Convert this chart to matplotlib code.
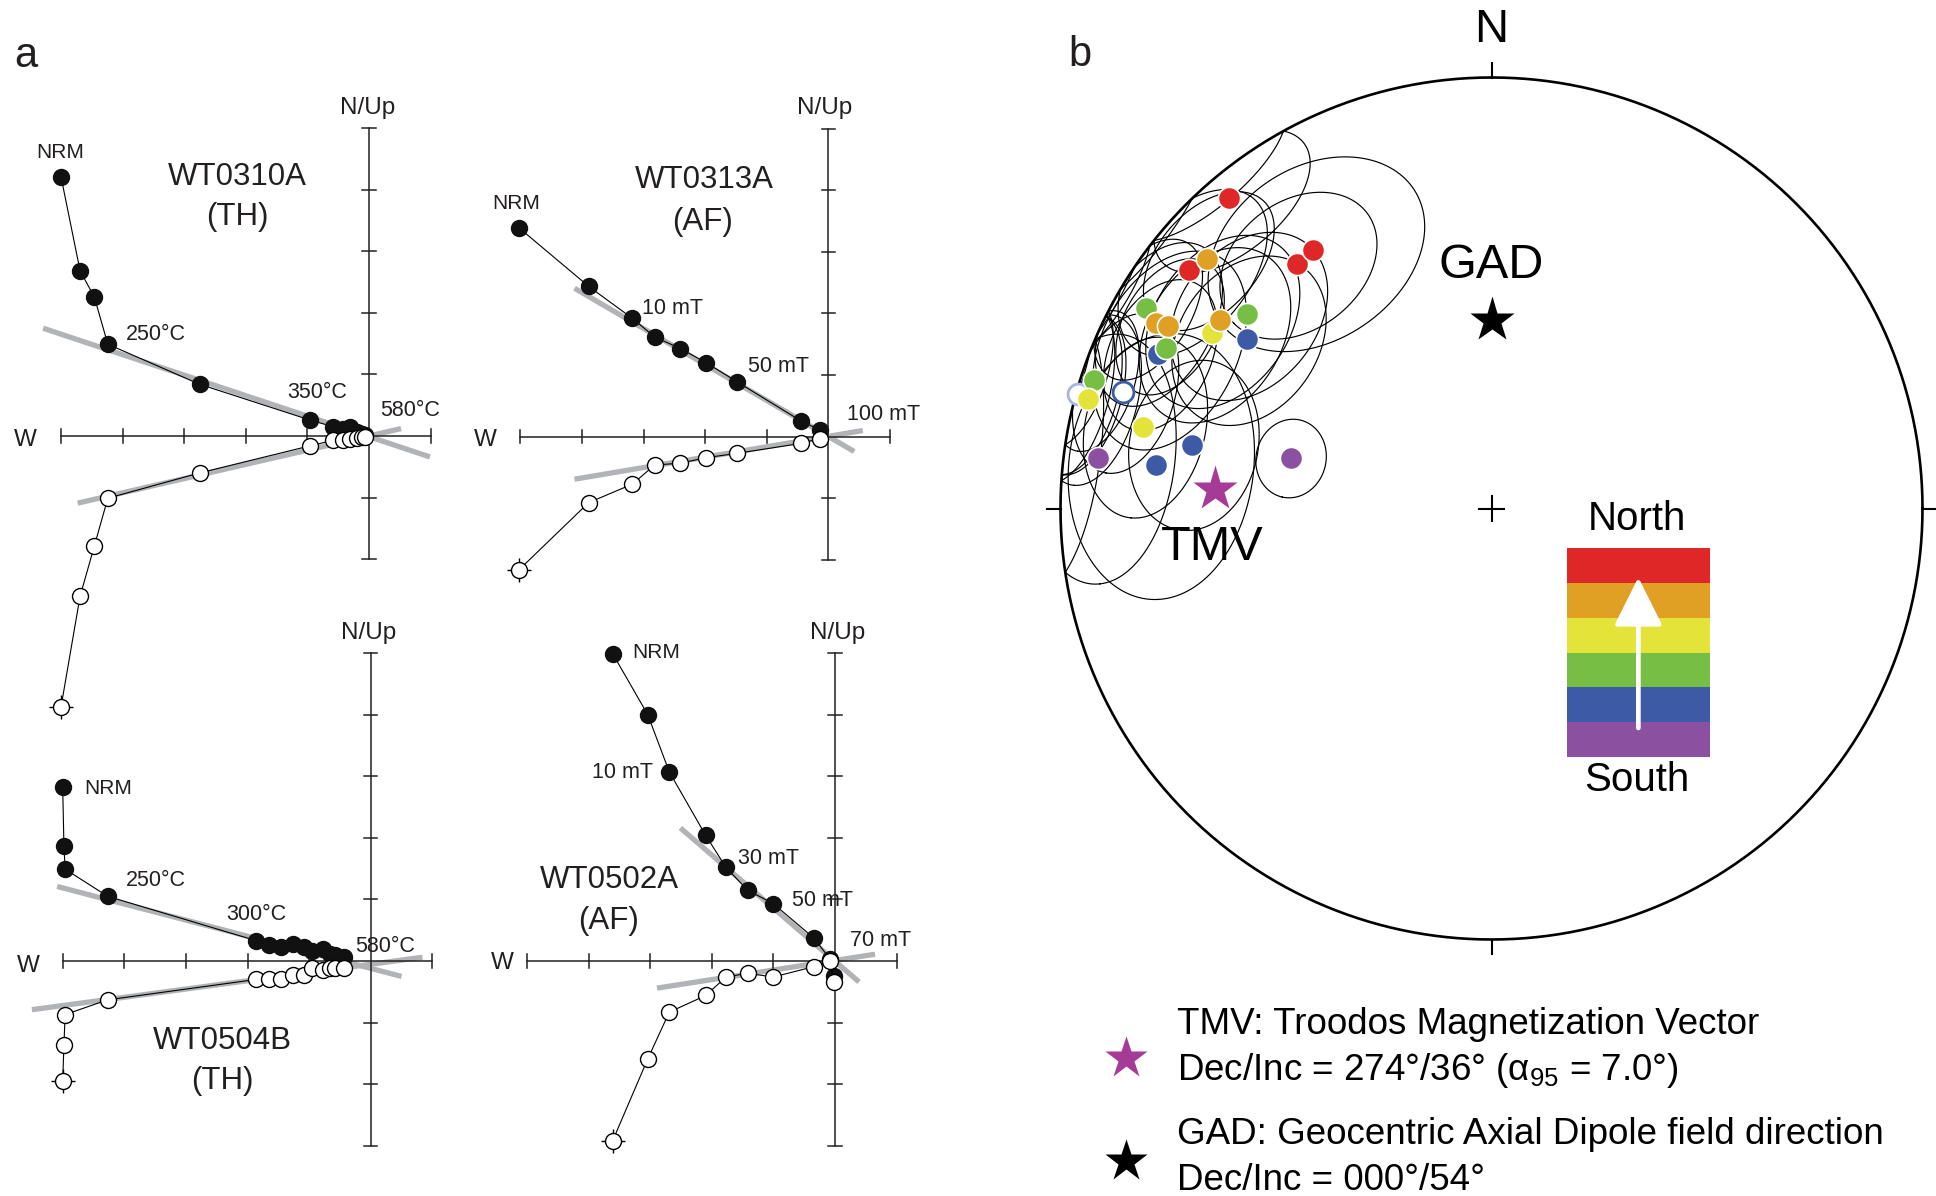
import numpy as np
import matplotlib
matplotlib.use('Agg')
import matplotlib.pyplot as plt

plt.rcParams['font.family'] = ['Liberation Sans', 'DejaVu Sans']
plt.rcParams['mathtext.fontset'] = 'custom'
plt.rcParams['mathtext.rm'] = 'Liberation Sans'
plt.rcParams['mathtext.it'] = 'Liberation Sans:italic'

W, H = 1936, 1196
INK = '#231f20'
GREY = '#b1b3b6'

# ---- panel a: Zijderveld data (tick units, x = E/W, filled = N/Up, open = horizontal) ----
x_0310 = [-5.0, -4.69, -4.46, -4.24, -2.75, -0.96, -0.58, -0.42, -0.31, -0.20, -0.12, -0.06]
f_0310 = [4.21, 2.68, 2.26, 1.49, 0.84, 0.26, 0.15, 0.12, 0.15, 0.07, 0.04, 0.02]
o_0310 = [-4.4, -2.6, -1.79, -1.01, -0.60, -0.16, -0.07, -0.06, -0.05, -0.03, -0.02, -0.01]
fitf_0310 = ([-5.29, 0.99], [1.75, -0.34])
fito_0310 = ([-4.73, 0.52], [-1.09, 0.12])

x_0313 = [-5.02, -3.89, -3.18, -2.82, -2.40, -1.98, -1.48, -0.45, -0.14]
f_0313 = [3.39, 2.44, 1.92, 1.62, 1.43, 1.20, 0.89, 0.26, 0.11]
o_0313 = [-2.16, -1.07, -0.77, -0.46, -0.43, -0.34, -0.27, -0.11, -0.03]
fitf_0313 = ([-4.12, 0.42], [2.41, -0.24])
fito_0313 = ([-4.12, 0.56], [-0.69, 0.10])

x_0504 = [-5.0, -4.98, -4.96, -4.27, -1.86, -1.65, -1.46, -1.26, -1.09, -0.96, -0.78, -0.66, -0.58, -0.44]
f_0504 = [2.82, 1.87, 1.49, 1.05, 0.33, 0.26, 0.22, 0.28, 0.22, 0.17, 0.20, 0.12, 0.09, 0.07]
o_0504 = [-1.95, -1.36, -0.87, -0.63, -0.30, -0.29, -0.30, -0.22, -0.22, -0.11, -0.15, -0.11, -0.11, -0.11]
fitf_0504 = ([-5.09, 0.50], [1.21, -0.25])
fito_0504 = ([-5.5, 0.84], [-0.79, 0.06])

x_0502 = [-3.61, -3.04, -2.69, -2.10, -1.77, -1.42, -1.0, -0.34, -0.08, -0.02]
f_0502 = [4.99, 4.0, 3.07, 2.04, 1.52, 1.15, 0.93, 0.37, 0.03, -0.25]
o_0502 = [-2.92, -1.59, -0.83, -0.56, -0.26, -0.20, -0.26, -0.09, 0.0, -0.34]
fitf_0502 = ([-2.51, 0.39], [2.16, -0.34])
fito_0502 = ([-2.89, 0.65], [-0.44, 0.11])

# ---- panel b: site means (dec, inc, a95), grouped by position in the sequence ----
group_colors = ['#E02727', '#DFA024', '#E3E33A', '#77BF44', '#3C5AA6', '#8B50A0']
site_dec = [[319.8, 308.3, 321.5, 325.4],
            [311.2, 299.0, 299.5, 304.8],
            [302.1, 285.2, 283.2],
            [300.1, 308.4, 296.2, 287.9],
            [304.7, 294.9, 282.0, 277.3, 287.5],
            [277.3, 284.0]]
site_inc = [[6.4, 11.7, 28.2, 28.0],
            [13.2, 12.0, 14.9, 24.3],
            [24.5, 3.5, 18.0],
            [8.1, 28.3, 16.9, 3.5],
            [31.5, 15.9, 29.6, 22.5, -11.4],
            [8.7, 50.3]]
site_a95 = [[13, 14, 14, 19],
            [12, 13, 11, 15],
            [15, 12, 14],
            [11, 15, 16, 10],
            [15, 12, 14, 21, 12],
            [18, 7]]
faint_dec, faint_inc, faint_a95 = [285.5], [-0.5], [11]
draw_order = [4, 5, 3, 2, 0, 1]

tmv_dec, tmv_inc = 274, 36
gad_dec, gad_inc = 0, 54

fig = plt.figure(figsize=(W / 100, H / 100), dpi=100)


def px_text(x, y, s, size, ha='center', va='center', **kw):
    fig.text(x / W, 1 - y / H, s, fontsize=size, ha=ha, va=va, color=kw.pop('color', INK), **kw)


def zijderveld(ox, oy, down, xs, yf, yo, fitf, fito):
    u = 61.6
    L, R, U, pad = 5, 1, 5, 1.2
    x0, x1 = ox - (L + pad) * u, ox + (R + pad) * u
    y0, y1 = oy - (U + pad) * u, oy + (down + pad + 2) * u
    ax = fig.add_axes([x0 / W, 1 - y1 / H, (x1 - x0) / W, (y1 - y0) / H])
    ax.set_xlim(-(L + pad), R + pad)
    ax.set_ylim(-(down + pad + 2), U + pad)
    ax.axis('off')
    ax.plot(*fitf, color=GREY, lw=3.8, solid_capstyle='butt', zorder=1)
    ax.plot(*fito, color=GREY, lw=3.8, solid_capstyle='butt', zorder=1)
    tk = 0.11
    ax.plot([-L, R], [0, 0], color=INK, lw=1.1, zorder=2)
    ax.plot([0, 0], [-down, U], color=INK, lw=1.1, zorder=2)
    for t in range(-L, R + 1):
        if t:
            ax.plot([t, t], [-tk, tk], color=INK, lw=1.1, zorder=2)
    for t in range(-down, U + 1):
        if t:
            ax.plot([-tk, tk], [t, t], color=INK, lw=1.1, zorder=2)
    ax.plot(xs, yf, '-', color='k', lw=0.8, marker='o', mfc='#111111', mec='#111111',
            ms=11.5, zorder=4, clip_on=False)
    ax.plot(xs[0], yo[0], marker='+', ms=17, mew=1.0, color='k', zorder=4, clip_on=False)
    ax.plot(xs, yo, '-', color='k', lw=0.8, marker='o', mfc='white', mec='k',
            ms=11.5, mew=1.0, zorder=5, clip_on=False)
    return ax


zijderveld(369, 436, 2, x_0310, f_0310, o_0310, fitf_0310, fito_0310)
zijderveld(828.3, 436.7, 2, x_0313, f_0313, o_0313, fitf_0313, fito_0313)
zijderveld(370.7, 961, 3, x_0504, f_0504, o_0504, fitf_0504, fito_0504)
zijderveld(835, 961, 3, x_0502, f_0502, o_0502, fitf_0502, fito_0502)

big, step, nrm, ax_lab = 22.5, 15.5, 15, 17.5
for s, x, y, fs in [('NRM', 60, 152, nrm), ('WT0310A', 237, 177, big), ('(TH)', 237, 217, big),
                    ('250°C', 156, 335, step), ('350°C', 317, 392, step), ('580°C', 410, 410, step),
                    ('N/Up', 368, 108, ax_lab), ('W', 25, 440, ax_lab),
                    ('NRM', 516, 203, nrm), ('WT0313A', 704, 180, big), ('(AF)', 703, 222, big),
                    ('10 mT', 673, 308, step), ('50 mT', 778, 366, step), ('100 mT', 884, 415, step),
                    ('N/Up', 825, 108, ax_lab), ('W', 485, 440, ax_lab),
                    ('NRM', 108, 788, nrm), ('250°C', 156, 881, step), ('300°C', 256, 915, step),
                    ('580°C', 385, 946, step), ('WT0504B', 222, 1041, big), ('(TH)', 222, 1081, big),
                    ('N/Up', 369, 633, ax_lab), ('W', 28, 966, ax_lab),
                    ('NRM', 656, 653, nrm), ('10 mT', 622, 773, step), ('30 mT', 769, 859, step),
                    ('50 mT', 823, 900, step), ('70 mT', 881, 940, step), ('WT0502A', 609, 880, big),
                    ('(AF)', 609, 921, big), ('N/Up', 838, 633, ax_lab), ('W', 502, 963, ax_lab)]:
    px_text(x, y, s, fs)

px_text(26, 56, 'a', 30)
px_text(1080, 55, 'b', 30)


# ---- panel b: equal-area stereonet ----
def to_xyz(dec, inc):
    d, i = np.radians(dec), np.radians(inc)
    return np.array([np.cos(i) * np.cos(d), np.cos(i) * np.sin(d), np.sin(i)])


def eqarea(v):
    v = np.asarray(v, dtype=float)
    colat = np.arctan2(np.hypot(v[0], v[1]), np.abs(v[2]))
    r = np.sqrt(2) * np.sin(colat / 2)
    az = np.arctan2(v[1], v[0])
    return r * np.sin(az), r * np.cos(az)


def cone(dec, inc, a95, n=300):
    v = to_xyz(dec, inc)
    ref = np.array([0, 0, 1.0]) if abs(v[2]) < 0.9 else np.array([1.0, 0, 0])
    u1 = np.cross(v, ref)
    u1 /= np.linalg.norm(u1)
    u2 = np.cross(v, u1)
    t = np.linspace(0, 2 * np.pi, n)
    a = np.radians(a95)
    p = np.cos(a) * v[:, None] + np.sin(a) * (np.outer(u1, np.cos(t)) + np.outer(u2, np.sin(t)))
    return eqarea(p)


cx, cy, R = 1491.5, 508.5, 431
sn = fig.add_axes([(cx - R) / W, 1 - (cy + R) / H, 2 * R / W, 2 * R / H])
sn.set_xlim(-1, 1)
sn.set_ylim(-1, 1)
sn.axis('off')
th = np.linspace(0, 2 * np.pi, 721)
sn.plot(np.cos(th), np.sin(th), color='k', lw=1.9, clip_on=False)
tl = 14 / R
for dx, dy in [(0, 1), (1, 0), (0, -1), (-1, 0)]:
    sn.plot([dx, dx * (1 + tl)], [dy, dy * (1 + tl)], color='k', lw=1.5, clip_on=False)
sn.plot([-0.03, 0.03], [0, 0], color='k', lw=1.5)
sn.plot([0, 0], [-0.03, 0.03], color='k', lw=1.5)

for g in range(len(group_colors)):
    for d, i, a in zip(site_dec[g], site_inc[g], site_a95[g]):
        ex, ey = cone(d, i, a)
        sn.plot(ex, ey, color='k', lw=0.85, zorder=3)
for d, i, a in zip(faint_dec, faint_inc, faint_a95):
    ex, ey = cone(d, i, a)
    sn.plot(ex, ey, color='k', lw=0.85, zorder=3)

for d, i in zip(faint_dec, faint_inc):
    px, py = eqarea(to_xyz(d, i))
    sn.plot(px, py, 'o', ms=15, mfc='white', mec='#A9B4E0', mew=2, zorder=5)
for g in draw_order:
    for d, i in zip(site_dec[g], site_inc[g]):
        px, py = eqarea(to_xyz(d, i))
        if i >= 0:
            sn.plot(px, py, 'o', ms=16, mfc=group_colors[g], mec='white', mew=1.2, zorder=6)
        else:
            sn.plot(px, py, 'o', ms=15, mfc='white', mec=group_colors[g], mew=2, zorder=6)

gx, gy = eqarea(to_xyz(gad_dec, gad_inc))
sn.plot(gx, gy, marker='*', ms=34, color='k', mec='none', zorder=7)
tx, ty = eqarea(to_xyz(tmv_dec, tmv_inc))
sn.plot(tx, ty, marker='*', ms=34, color='#A63A97', mec='none', zorder=7)

px_text(1491, 30, 'N', 34, color='k')
px_text(1491.5, 265, 'GAD', 35, color='k')
px_text(1212, 548, 'TMV', 35, color='k')

# colour key
bands = ['#8B50A0', '#3C5AA6', '#77BF44', '#E3E33A', '#DFA024', '#E02727']
kx0, kx1, ky0, ky1 = 1566.7, 1710, 547.7, 757.3
key = fig.add_axes([kx0 / W, 1 - ky1 / H, (kx1 - kx0) / W, (ky1 - ky0) / H])
key.bar([0.5] * len(bands), [1] * len(bands), bottom=np.arange(len(bands)), width=1,
        color=bands, edgecolor='none')
key.set_xlim(0, 1)
key.set_ylim(0, len(bands))
key.axis('off')
key.annotate('', xy=(0.5, 5.15), xytext=(0.5, 0.84),
             arrowprops=dict(arrowstyle='-|>,head_length=1.5,head_width=0.75', color='white',
                             lw=3.4, shrinkA=0, shrinkB=0, mutation_scale=20))
px_text(1637, 519, 'North', 29, color='k')
px_text(1637, 780, 'South', 29, color='k')

# legend
ov = fig.add_axes([0, 0, 1, 1])
ov.set_xlim(0, W)
ov.set_ylim(H, 0)
ov.axis('off')
ov.plot(1126, 1058, marker='*', ms=32, color='#A63A97', mec='none')
ov.plot(1126, 1161, marker='*', ms=32, color='k', mec='none')
lg = 26.5
px_text(1177, 1024, 'TMV: Troodos Magnetization Vector', lg, ha='left', color='k')
px_text(1177, 1070, 'Dec/Inc = 274°/36° (α$_{95}$ = 7.0°)', lg, ha='left', color='k')
px_text(1177, 1135, 'GAD: Geocentric Axial Dipole field direction', lg, ha='left', color='k')
px_text(1177, 1180, 'Dec/Inc = 000°/54°', lg, ha='left', color='k')

fig.savefig('out.png', dpi=100)
